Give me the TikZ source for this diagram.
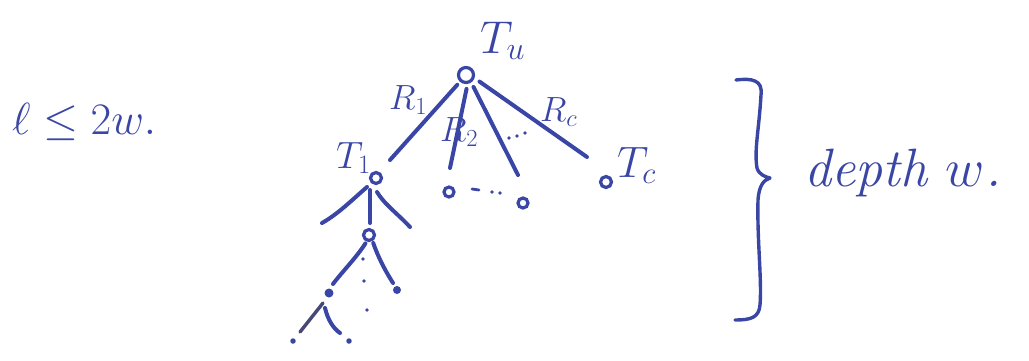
\RequirePackage{fix-cm}
\documentclass[tikz,border=0pt]{standalone}
\usetikzlibrary{shapes.geometric}
\definecolor{ink}{RGB}{58,70,165}
\definecolor{inkdark}{RGB}{70,72,120}
\begin{document}
\begin{tikzpicture}[x=1pt,y=-1pt,
  pen/.style={draw=ink, line width=4pt, line cap=round, line join=round},
  vtx/.style={circle, draw=ink, line width=3.2pt, inner sep=0pt, minimum size=#1},
  blob/.style={ellipse, fill=ink, inner sep=0pt, minimum width=#1, minimum height=#1},
  dotmark/.style={circle, fill=ink, inner sep=0pt, minimum size=3.6pt},
  lab/.style={text=ink, inner sep=0pt, anchor=base west, font=\fontsize{#1}{#1}\selectfont}]
\useasboundingbox (0,0) rectangle (1029,360);

% bound on the number of levels
\node[lab=45] (bound) at (12,134) {$\ell \le 2w.$};

% root and its children
\node[vtx=15] (root) at (466,75) {};
\node[lab=46] (rootlab) at (480,53) {$T_u$};
\node[vtx=11] (t1) at (376,178) {};
\node[lab=38] (t1lab) at (336,168) {$T_1$};
\node[vtx=10] (a2) at (449,192) {};
\node[vtx=10] (a3) at (523,203) {};
\node[vtx=11] (tc) at (606,182) {};
\node[lab=44] (tclab) at (617,177) {$T_c$};

\coordinate (e1) at (390,160);
\coordinate (e2) at (450,168);
\coordinate (e3) at (518,175);
\coordinate (ec) at (587,157);
\draw[pen, shorten <=4pt] (root) -- (e1);
\draw[pen, shorten <=5pt] (root.-80) -- (e2);
\draw[pen, shorten <=5pt] (root.-55) -- (e3);
\draw[pen, shorten <=6pt] (root.-20) -- (ec);

% edge labels
\node[lab=35] (r1) at (389,109) {$R_1$};
\node[lab=35] (r2) at (440,141) {$R_2$};
\node[lab=35] (rc) at (540,121) {$R_c$};

% dots between the middle edges and between the middle children
\node[dotmark] (d1) at (509,138) {};
\node[dotmark] (d2) at (517,136) {};
\node[dotmark] (d3) at (525,133) {};
\coordinate (s1) at (472,189);
\coordinate (s2) at (479,190);
\draw[pen, line width=2.8pt] (s1) -- (s2);
\node[dotmark] (d4) at (492,192) {};
\node[dotmark] (d5) at (500,193) {};

% path down from T_1
\node[vtx=11] (n2) at (369,235) {};
\coordinate (b0) at (367,187);
\coordinate (b1) at (322,223);
\coordinate (m0) at (370,190);
\coordinate (m1) at (370,223);
\coordinate (c0) at (377,192);
\coordinate (b2) at (410,227);
\draw[pen] (b0) .. controls (352,200) and (338,214) .. (b1);
\draw[pen] (m0) -- (m1);
\draw[pen] (c0) .. controls (384,204) and (398,214) .. (b2);

\node[blob=9] (n3) at (329,293) {};
\node[blob=8] (n4) at (397,290) {};
\coordinate (l1) at (333,284);
\coordinate (r1e) at (393,283);
\draw[pen, shorten <=2pt] (n2.-110) .. controls (356,258) and (342,272) .. (l1);
\draw[pen, shorten <=2pt] (n2.-60) .. controls (380,262) and (388,275) .. (r1e);
\node[dotmark] (d6) at (363,259) {};
\node[dotmark] (d7) at (364,281) {};
\node[dotmark] (d8) at (367,310) {};

% bottom level below the left child
\node[dotmark, minimum size=5.5pt] (n5) at (293,341) {};
\node[dotmark, minimum size=5.5pt] (n6) at (349,341) {};
\coordinate (g0) at (323,303);
\coordinate (g1) at (300,332);
\coordinate (h0) at (325,308);
\coordinate (h1) at (340,333);
\draw[pen, draw=inkdark, line width=3.4pt] (g0) -- (g1);
\draw[pen] (h0) .. controls (328,320) and (333,328) .. (h1);

% brace spanning the depth
\draw[pen, line width=3.4pt] (736,80) .. controls (752,78) and (763,80) .. (761,95)
  .. controls (759,130) and (754,150) .. (757,168)
  .. controls (759,175) and (766,177) .. (770,178)
  .. controls (764,180) and (759,185) .. (758,200)
  .. controls (757,240) and (762,280) .. (760,305)
  .. controls (759,318) and (750,320) .. (735,320);
\node[lab=54] (depth) at (804,186) {\itshape depth $w$.};
\end{tikzpicture}
\end{document}
